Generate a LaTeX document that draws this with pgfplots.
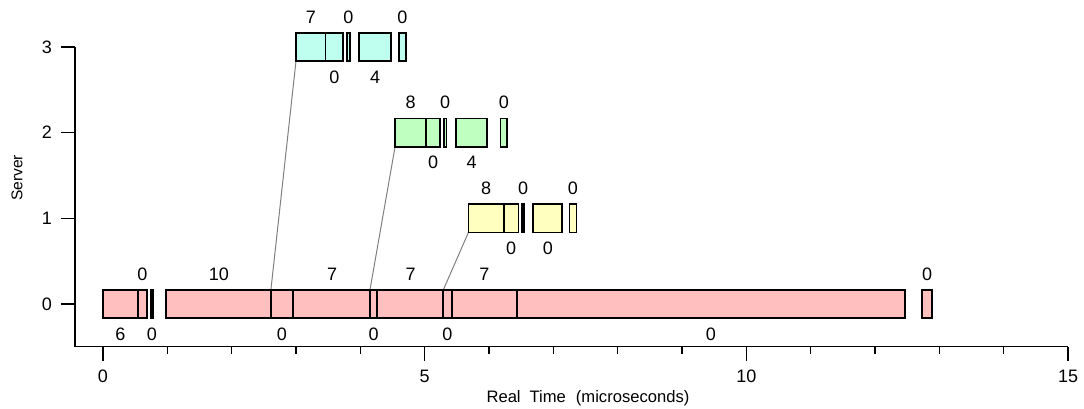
\documentclass[border=0pt]{standalone}
\usepackage{fontspec}
\setmainfont{Liberation Sans}
\usepackage{pgfplots}
\pgfplotsset{compat=1.18}
\definecolor{sZero}{RGB}{255,191,191}
\definecolor{sOne}{RGB}{255,255,191}
\definecolor{sTwo}{RGB}{191,255,191}
\definecolor{sThree}{RGB}{191,255,239}
% \seg{x0}{x1}{ylo}{yhi}{colour}
\newcommand{\seg}[5]{\addplot[fill=#5,draw=black,line width=0.9bp,mark=none] coordinates {(#1,#3) (#2,#3) (#2,#4) (#1,#4)} -- cycle;}
\begin{document}
\begin{tikzpicture}[font=\fontsize{9bp}{10.8bp}\selectfont]
\path[use as bounding box] (-37.5bp,-31.1bp) rectangle (504.5bp,173.4bp);
\begin{axis}[
  at={(0,0)}, anchor=south west,
  scale only axis, width=496.5bp, height=149.9bp,
  xmin=-0.435, xmax=15, ymin=-0.5, ymax=3,
  axis x line*=bottom, axis y line*=left,
  axis line style={-, line width=0.6bp},
  xtick={0,5,10,15},
  minor xtick={1,2,3,4,6,7,8,9,11,12,13,14},
  ytick={0,1,2,3},
  tick align=outside,
  major tick length=7bp, minor tick length=3.5bp,
  tick style={black, line width=0.6bp},
  clip=false,
  /pgf/number format/assume math mode=true,
  xticklabel style={anchor=north, yshift=-1bp},
  yticklabel style={anchor=east, xshift=-1bp},
  xlabel={Real\hspace{4.5bp}Time\hspace{5bp}(microseconds)},
  xlabel style={at={(axis description cs:0.5166,-0.171)}, anchor=center, font=\fontsize{8.3bp}{10bp}\selectfont},
  ylabel={Server},
  ylabel style={at={(axis description cs:-0.0584,0.563)}, anchor=center, font=\fontsize{7.8bp}{9bp}\selectfont},
]
% connectors
\addplot[gray, line width=0.5bp, mark=none] coordinates {(2.61,0.165) (3.0,2.835)};
\addplot[gray, line width=0.5bp, mark=none] coordinates {(4.15,0.165) (4.54,1.835)};
\addplot[gray, line width=0.5bp, mark=none] coordinates {(5.29,0.165) (5.68,0.835)};
% server 0
\seg{0}{0.544}{-0.165}{0.165}{sZero}
\seg{0.544}{0.684}{-0.165}{0.165}{sZero}
\seg{0.745}{0.775}{-0.165}{0.165}{sZero}
\seg{0.979}{2.61}{-0.165}{0.165}{sZero}
\seg{2.61}{2.95}{-0.165}{0.165}{sZero}
\seg{2.95}{4.15}{-0.165}{0.165}{sZero}
\seg{4.15}{4.26}{-0.165}{0.165}{sZero}
\seg{4.26}{5.29}{-0.165}{0.165}{sZero}
\seg{5.29}{5.42}{-0.165}{0.165}{sZero}
\seg{5.42}{6.43}{-0.165}{0.165}{sZero}
\seg{6.43}{12.47}{-0.165}{0.165}{sZero}
\seg{12.73}{12.89}{-0.165}{0.165}{sZero}
% server 1
\seg{5.68}{6.23}{0.835}{1.165}{sOne}
\seg{6.23}{6.46}{0.835}{1.165}{sOne}
\seg{6.51}{6.55}{0.835}{1.165}{sOne}
\seg{6.69}{7.14}{0.835}{1.165}{sOne}
\seg{7.25}{7.36}{0.835}{1.165}{sOne}
% server 2
\seg{4.54}{5.02}{1.835}{2.165}{sTwo}
\seg{5.02}{5.24}{1.835}{2.165}{sTwo}
\seg{5.30}{5.34}{1.835}{2.165}{sTwo}
\seg{5.49}{5.97}{1.835}{2.165}{sTwo}
\seg{6.18}{6.28}{1.835}{2.165}{sTwo}
% server 3
\seg{3.00}{3.46}{2.835}{3.165}{sThree}
\seg{3.46}{3.73}{2.835}{3.165}{sThree}
\seg{3.79}{3.84}{2.835}{3.165}{sThree}
\seg{3.98}{4.48}{2.835}{3.165}{sThree}
\seg{4.60}{4.71}{2.835}{3.165}{sThree}
% labels
\addplot[only marks, mark=*, mark size=0pt, mark options={draw=none,fill=none},
  point meta=explicit symbolic, nodes near coords,
  nodes near coords style={anchor=center, inner sep=0pt, text=black}]
  table[meta=l] {
x y l
0.272 -0.35 6
0.614 0.35 0
0.760 -0.35 0
1.800 0.35 10
2.780 -0.35 0
3.560 0.35 7
4.205 -0.35 0
4.780 0.35 7
5.355 -0.35 0
5.930 0.35 7
9.450 -0.35 0
12.81 0.35 0
5.955 1.35 8
6.345 0.65 0
6.530 1.35 0
6.915 0.65 0
7.305 1.35 0
4.780 2.35 8
5.130 1.65 0
5.320 2.35 0
5.730 1.65 4
6.230 2.35 0
3.230 3.35 7
3.595 2.65 0
3.815 3.35 0
4.230 2.65 4
4.655 3.35 0
};
\end{axis}
\end{tikzpicture}
\end{document}
